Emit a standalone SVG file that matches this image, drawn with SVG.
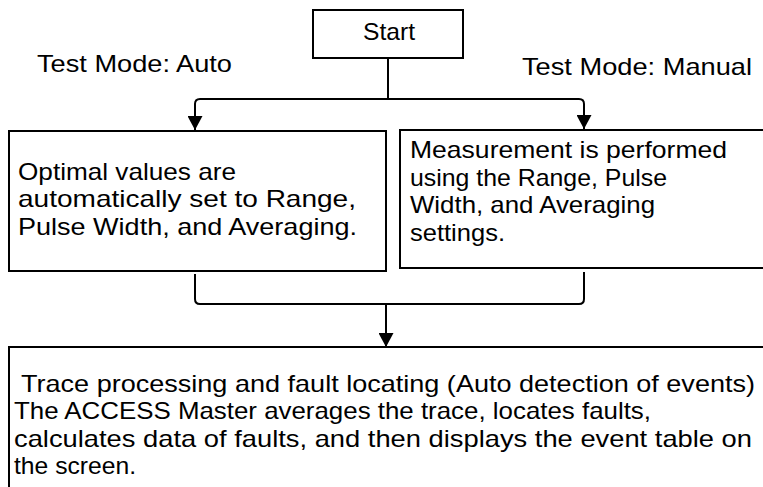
<svg xmlns="http://www.w3.org/2000/svg" width="763" height="487" viewBox="0 0 763 487">
  <style>
    .box { fill: #ffffff; stroke: #000000; stroke-width: 2; }
    .line { fill: none; stroke: #000000; stroke-width: 2; }
    text { font-family: "Liberation Sans", Arial, sans-serif; font-size: 24px; fill: #000000; }
  </style>
  <defs>
    <marker id="arrow" viewBox="0 0 14 15" refX="14" refY="7.5" markerWidth="14" markerHeight="15" markerUnits="userSpaceOnUse" orient="auto">
      <path d="M0,0 L14,7.5 L0,15 z" fill="#000000"/>
    </marker>
  </defs>
  <rect width="763" height="487" fill="#ffffff"/>

  <g id="label-auto"><text x="37" y="72" textLength="195" lengthAdjust="spacingAndGlyphs">Test Mode: Auto</text></g>
  <g id="label-manual"><text x="522" y="75" textLength="230" lengthAdjust="spacingAndGlyphs">Test Mode: Manual</text></g>

  <g id="start">
    <rect class="box" x="313" y="10" width="150" height="48"/>
    <text x="363" y="40" textLength="52" lengthAdjust="spacingAndGlyphs">Start</text>
  </g>

  <g id="auto-box">
    <rect class="box" x="9" y="131" width="377" height="140"/>
    <text x="18" y="180" textLength="218" lengthAdjust="spacingAndGlyphs">Optimal values are</text>
    <text x="18" y="207" textLength="338" lengthAdjust="spacingAndGlyphs">automatically set to Range,</text>
    <text x="18" y="235" textLength="339" lengthAdjust="spacingAndGlyphs">Pulse Width, and Averaging.</text>
  </g>

  <g id="manual-box">
    <rect class="box" x="400" y="130" width="400" height="138"/>
    <text x="410" y="158" textLength="317" lengthAdjust="spacingAndGlyphs">Measurement is performed</text>
    <text x="410" y="186" textLength="257" lengthAdjust="spacingAndGlyphs">using the Range, Pulse</text>
    <text x="410" y="213" textLength="245" lengthAdjust="spacingAndGlyphs">Width, and Averaging</text>
    <text x="410" y="241" textLength="95" lengthAdjust="spacingAndGlyphs">settings.</text>
  </g>

  <g id="result-box">
    <rect class="box" x="9" y="347" width="800" height="160"/>
    <text x="14" y="392" xml:space="preserve" textLength="741" lengthAdjust="spacingAndGlyphs"> Trace processing and fault locating (Auto detection of events)</text>
    <text x="14" y="419" textLength="637" lengthAdjust="spacingAndGlyphs">The ACCESS Master averages the trace, locates faults,</text>
    <text x="14" y="447" textLength="738" lengthAdjust="spacingAndGlyphs">calculates data of faults, and then displays the event table on</text>
    <text x="14" y="474" textLength="122" lengthAdjust="spacingAndGlyphs">the screen.</text>
  </g>

  <g id="connectors">
    <path class="line" d="M388,58 V99"/>
    <path class="line" d="M388,99 H200 Q195,99 195,104 V130" marker-end="url(#arrow)"/>
    <path class="line" d="M388,99 H579 Q584,99 584,104 V129" marker-end="url(#arrow)"/>
    <path class="line" d="M195,274 V299 Q195,304 200,304 H579 Q584,304 584,299 V272"/>
    <path class="line" d="M386,304 V347" marker-end="url(#arrow)"/>
  </g>
</svg>
